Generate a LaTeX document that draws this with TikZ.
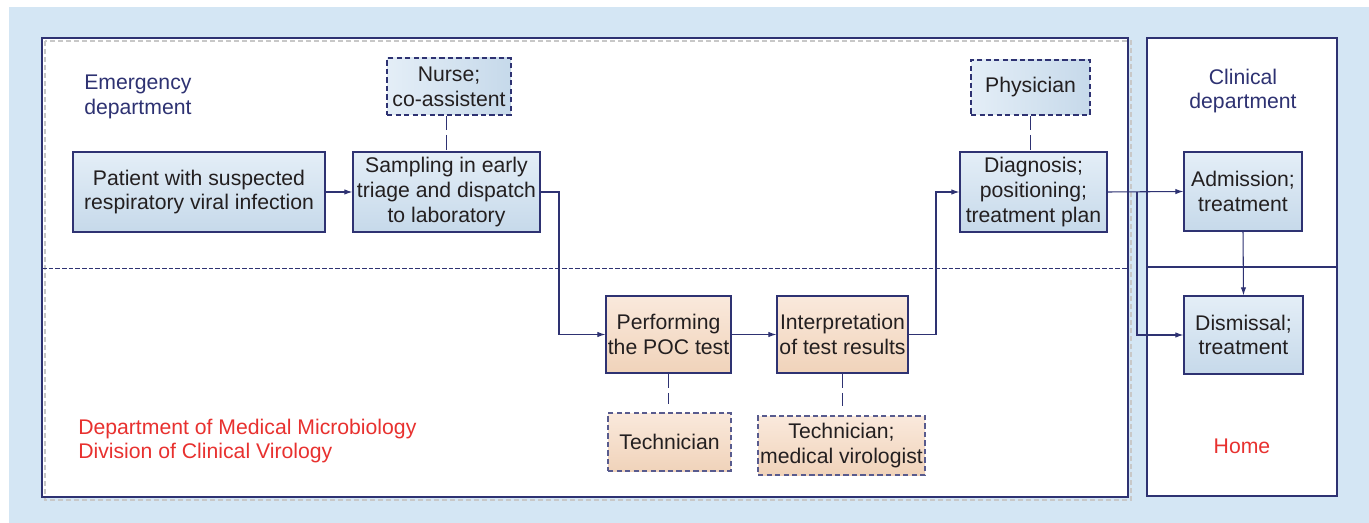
\documentclass[tikz,border=0pt]{standalone}
\usepackage{fontspec}
\setmainfont{Liberation Sans}
\usetikzlibrary{arrows.meta,calc}
\definecolor{bgblue}{HTML}{D4E6F4}
\definecolor{navy}{HTML}{2E3272}
\definecolor{boxtop}{HTML}{E4EEF7}
\definecolor{boxbot}{HTML}{C6D9EA}
\definecolor{ortop}{HTML}{FAE9DC}
\definecolor{orbot}{HTML}{F0D3BA}
\definecolor{txt}{HTML}{231F20}
\definecolor{redtxt}{HTML}{E8312F}
\definecolor{shadowgray}{HTML}{C8C8C8}
\tikzset{
  every node/.style={font=\fontsize{15.9pt}{18.6pt}\selectfont, text=txt, align=center, inner sep=0pt},
  bluebox/.style={draw=navy, line width=0.85pt, top color=boxtop, bottom color=boxbot},
  orbox/.style={draw=navy, line width=0.85pt, top color=ortop, bottom color=orbot},
  roleblue/.style={draw=navy, line width=0.85pt, dash pattern=on 4pt off 2.4pt, left color=boxtop, right color=boxbot},
  roleor/.style={draw=navy!80, line width=0.85pt, dash pattern=on 4pt off 2.4pt, top color=ortop, bottom color=orbot},
  arr/.style={draw=navy, line width=0.8pt, -{Latex[length=6pt,width=4pt]}},
  link/.style={draw=navy, line width=0.8pt},
  rolelink/.style={draw=navy, line width=0.8pt, dash pattern=on 11pt off 3.5pt},
  label/.style={align=left, anchor=west},
}
\begin{document}
\begin{tikzpicture}[x=0.75pt, y=-0.75pt]
\useasboundingbox (0,0) rectangle (1369,523);
% background
\fill[bgblue] (9,7) rectangle (1369,523);
% main frame
\fill[white] (42,38) rectangle (1128,497);
\draw[shadowgray, line width=0.8pt, dash pattern=on 4pt off 2pt] (45,41) rectangle (1131,500);
\draw[navy, line width=1pt] (42,38) rectangle (1128,497);
\draw[navy, line width=0.7pt, dash pattern=on 3.5pt off 1.5pt] (42,268) -- (1128,268);
% right frame
\fill[white] (1147,38) rectangle (1337,496);
\draw[navy, line width=1pt] (1147,38) rectangle (1337,496);
\draw[navy, line width=0.9pt] (1147,267) -- (1337,267);

% labels
\node[label, text=navy] (emlab) at (84,97) {Emergency\\department};
\node[label, text=redtxt] (mmlab) at (78,441) {Department of Medical Microbiology\\Division of Clinical Virology};
\node[text=navy] (cllab) at (1243,91) {Clinical\\department};
\node[text=redtxt] (home) at (1242,446) {Home};

% process boxes
\node[bluebox, minimum width=189pt, minimum height=60pt] (patient) at (199,192) {Patient with suspected\\respiratory viral infection};
\node[bluebox, minimum width=140.25pt, minimum height=60pt] (sampling) at (446.5,192) {Sampling in early\\triage and dispatch\\to laboratory};
\node[bluebox, minimum width=110.25pt, minimum height=60pt] (diag) at (1033.5,192) {Diagnosis;\\positioning;\\treatment plan};
\node[bluebox, minimum width=88.5pt, minimum height=59.25pt] (adm) at (1243,191.5) {Admission;\\treatment};
\node[bluebox, minimum width=89.25pt, minimum height=58.5pt] (dism) at (1243.5,335) {Dismissal;\\treatment};
\node[orbox, minimum width=93.75pt, minimum height=57.75pt] (poc) at (668.5,334.5) {Performing\\the POC test};
\node[orbox, minimum width=98.25pt, minimum height=57.75pt] (interp) at (842.5,334.5) {Interpretation\\of test results};

% role boxes
\node[roleblue, minimum width=93pt, minimum height=42.75pt] (nurse) at (449,86.5) {Nurse;\\co-assistent};
\node[roleblue, minimum width=89.25pt, minimum height=41.25pt] (phys) at (1030.5,87.5) {Physician};
\node[roleor, minimum width=92.25pt, minimum height=43.5pt] (tech1) at (669.5,442) {Technician};
\node[roleor, minimum width=125.25pt, minimum height=44.25pt] (tech2) at (841.5,445.5) {Technician;\\medical virologist};

% junction coordinates
\coordinate (j1) at (559,0);
\coordinate (j2) at (936,0);
\coordinate (j3) at (1137,0);

% flow connectors
\draw[arr] (patient.east) -- (sampling.west);
\draw[arr] (sampling.east) -| (j1 |- poc.west) -- (poc.west);
\draw[arr] (poc.east) -- (interp.west);
\draw[arr] (interp.east) -| (j2 |- diag.west) -- (diag.west);
\draw[arr] (diag.east) -- (adm.west);
\draw[arr] (j3 |- diag.east) |- (dism.west);
\draw[arr] (adm.south) -- (dism.north);

% role links
\draw[rolelink] (nurse.south -| sampling.north) -- (sampling.north);
\draw[rolelink] (phys.south) -- (phys.south |- diag.north);
\draw[rolelink] (poc.south) -- ([yshift=6pt]poc.south |- tech1.north);
\draw[rolelink] (interp.south) -- ([yshift=7pt]interp.south |- tech2.north);
\end{tikzpicture}
\end{document}
